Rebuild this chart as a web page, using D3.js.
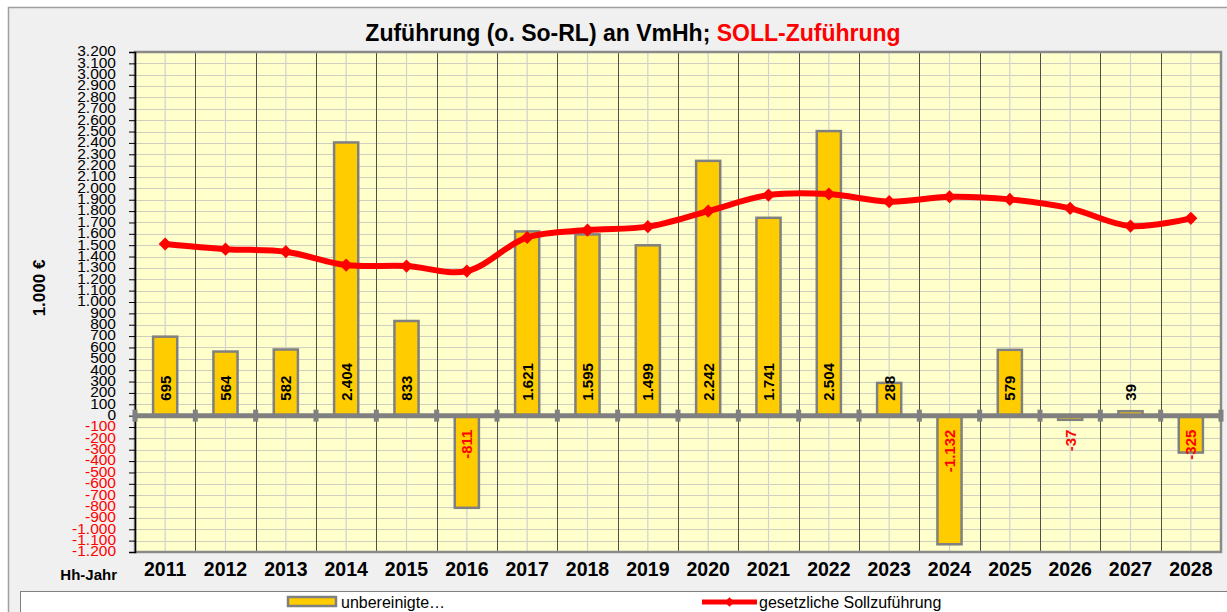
<!DOCTYPE html>
<html>
<head>
<meta charset="utf-8">
<script src="https://cdn.jsdelivr.net/npm/d3@7"></script>
<style>
	body { margin: 0; background: #ffffff; }
	text { font-family: Arial, "Liberation Sans", sans-serif; }
</style>
</head>
<body>
<div id="chart"></div>
<script>

// years on the x axis
const YEARS = ["2011", "2012", "2013", "2014", "2015", "2016", "2017", "2018", "2019",
	"2020", "2021", "2022", "2023", "2024", "2025", "2026", "2027", "2028"];

// unbereinigte Zuführung (bars), in 1.000 €
const ZUFUEHRUNG = [695, 564, 582, 2404, 833, -811, 1621, 1595, 1499,
	2242, 1741, 2504, 288, -1132, 579, -37, 39, -325];

// gesetzliche Sollzuführung (red line), in 1.000 €
const SOLL = [1510, 1465, 1443, 1325, 1316, 1272, 1568, 1633, 1663,
	1800, 1941, 1950, 1883, 1926, 1903, 1824, 1668, 1736];

// y axis ticks
const Y_TICKS = d3.range(-1200, 3201, 100);

const LEGEND_LABELS = ["unbereinigte\u2026", "gesetzliche Sollzuführung"];

const W = 1227, H = 612;
const plot = {left: 135, right: 1221, top: 52, bottom: 552};

// german number format (1.234), plain hyphen as minus
const de = d3.formatLocale({decimal: ",", thousands: ".", grouping: [3], currency: ["", " €"], minus: "-"});
const fmt = de.format(",d");

const svg = d3.select("#chart")
	.append("svg")
	.attr("width", W)
	.attr("height", H);

// outer chart frame
svg.append("rect")
	.attr("x", 8.5).attr("y", 7.5)
	.attr("width", W).attr("height", H)
	.attr("fill", "#f0f0f0")
	.attr("stroke", "#a0a0a0")
	.attr("stroke-width", 1.5);

// title
const title = svg.append("text")
	.attr("x", 633).attr("y", 41)
	.attr("text-anchor", "middle")
	.style("font-size", "23px")
	.style("font-weight", "bold");
title.append("tspan").text("Zuführung (o. So-RL) an VmHh; ").attr("fill", "#000");
title.append("tspan").text("SOLL-Zuführung").attr("fill", "#ff0000");

// scales
const x = d3.scaleBand()
	.domain(YEARS)
	.range([plot.left, plot.right]);

const y = d3.scaleLinear()
	.domain([-1200, 3200])
	.range([plot.bottom, plot.top]);

// plot background
svg.append("rect")
	.attr("x", plot.left).attr("y", plot.top)
	.attr("width", plot.right - plot.left)
	.attr("height", plot.bottom - plot.top)
	.attr("fill", "#ffffcc");

// horizontal grid
svg.append("g")
	.selectAll("line")
	.data(Y_TICKS)
	.enter()
	.append("line")
	.attr("x1", plot.left).attr("x2", plot.right)
	.attr("y1", d => Math.round(y(d)) + 0.5)
	.attr("y2", d => Math.round(y(d)) + 0.5)
	.attr("stroke", "#cfcfc0")
	.attr("stroke-width", 1.2);

// light vertical grid at the middle of each year
svg.append("g")
	.selectAll("line")
	.data(YEARS)
	.enter()
	.append("line")
	.attr("x1", d => x(d) + x.bandwidth() / 2)
	.attr("x2", d => x(d) + x.bandwidth() / 2)
	.attr("y1", plot.top).attr("y2", plot.bottom)
	.attr("stroke", "#d2d2cc")
	.attr("stroke-width", 1.2);

// dark vertical lines between years
svg.append("g")
	.selectAll("line")
	.data(YEARS.slice(1))
	.enter()
	.append("line")
	.attr("x1", d => Math.round(x(d)) + 0.5)
	.attr("x2", d => Math.round(x(d)) + 0.5)
	.attr("y1", plot.top).attr("y2", plot.bottom)
	.attr("stroke", "#505048")
	.attr("stroke-width", 1);

// plot border
svg.append("rect")
	.attr("x", plot.left).attr("y", plot.top)
	.attr("width", plot.right - plot.left)
	.attr("height", plot.bottom - plot.top)
	.attr("fill", "none")
	.attr("stroke", "#8a8a8a")
	.attr("stroke-width", 2.5);

// left y axis with ticks
const yAxis = d3.axisLeft(y)
	.tickValues(Y_TICKS)
	.tickSize(6)
	.tickFormat(fmt);

const yg = svg.append("g")
	.attr("transform", `translate(${plot.left},0)`)
	.call(yAxis);

yg.select(".domain").attr("stroke", "#000").attr("stroke-width", 1.5);
yg.selectAll(".tick line").attr("stroke", "#000").attr("stroke-width", 1);
yg.selectAll(".tick text")
	.attr("x", -19)
	.attr("dy", "0.25em")
	.style("font-size", "15.5px")
	.style("font-family", "Arial, 'Liberation Sans', sans-serif")
	.attr("fill", d => d < 0 ? "#ff0000" : "#000");

// bars
const barW = x.bandwidth() * 0.4;

svg.append("g")
	.selectAll("rect")
	.data(ZUFUEHRUNG)
	.enter()
	.append("rect")
	.attr("x", (d, i) => x(YEARS[i]) + (x.bandwidth() - barW) / 2)
	.attr("y", d => y(Math.max(0, d)))
	.attr("width", barW)
	.attr("height", d => Math.abs(y(d) - y(0)))
	.attr("fill", "#ffcc00")
	.attr("stroke", "#808080")
	.attr("stroke-width", 2.5);

// zero line with little square ticks
svg.append("line")
	.attr("x1", plot.left).attr("x2", plot.right)
	.attr("y1", y(0)).attr("y2", y(0))
	.attr("stroke", "#808080")
	.attr("stroke-width", 5);

svg.append("g")
	.selectAll("rect")
	.data(YEARS.concat(["end"]))
	.enter()
	.append("rect")
	.attr("x", d => (d == "end" ? plot.right : x(d)) - 2.5)
	.attr("y", y(0) - 6)
	.attr("width", 5)
	.attr("height", 12)
	.attr("fill", "#808080");

// bar value labels, rotated, near the zero line
svg.append("g")
	.selectAll("text")
	.data(ZUFUEHRUNG)
	.enter()
	.append("text")
	.attr("transform", function(d, i) {
		const cx = x(YEARS[i]) + x.bandwidth() / 2 + 5.5;
		const cy = d >= 0 ? y(0) - 15 : y(0) + 14;
		return `translate(${cx},${cy}) rotate(-90)`;
	})
	.attr("text-anchor", d => d >= 0 ? "start" : "end")
	.style("font-size", "15px")
	.style("font-weight", "bold")
	.attr("fill", d => d < 0 ? "#ff0000" : "#000")
	.text(d => fmt(d));

// smoothed red line
const line = d3.line()
	.x((d, i) => x(YEARS[i]) + x.bandwidth() / 2)
	.y(d => y(d))
	.curve(d3.curveCatmullRom.alpha(0.5));

svg.append("path")
	.datum(SOLL)
	.attr("d", line)
	.attr("fill", "none")
	.attr("stroke", "#ff0000")
	.attr("stroke-width", 6)
	.attr("stroke-linejoin", "round");

// diamond markers
const diamond = d3.symbol().type(d3.symbolDiamond2).size(110);

svg.append("g")
	.selectAll("path")
	.data(SOLL)
	.enter()
	.append("path")
	.attr("d", diamond)
	.attr("transform", (d, i) => `translate(${x(YEARS[i]) + x.bandwidth() / 2},${y(d)})`)
	.attr("fill", "#ff0000");

// x axis labels
svg.append("g")
	.selectAll("text")
	.data(YEARS)
	.enter()
	.append("text")
	.attr("x", d => x(d) + x.bandwidth() / 2)
	.attr("y", 576)
	.attr("text-anchor", "middle")
	.style("font-size", "19.5px")
	.style("font-weight", "bold")
	.text(d => d);

svg.append("text")
	.attr("x", 117).attr("y", 580)
	.attr("text-anchor", "end")
	.style("font-size", "15px")
	.style("font-weight", "bold")
	.text("Hh-Jahr");

// y axis title
svg.append("text")
	.attr("transform", "translate(45,288) rotate(-90)")
	.attr("text-anchor", "middle")
	.style("font-size", "17px")
	.style("font-weight", "bold")
	.text("1.000 €");

// legend box
svg.append("rect")
	.attr("x", 20.5).attr("y", 591.5)
	.attr("width", W).attr("height", 40)
	.attr("fill", "#ffffff")
	.attr("stroke", "#808080")
	.attr("stroke-width", 1);

svg.append("rect")
	.attr("x", 288).attr("y", 597)
	.attr("width", 48).attr("height", 9)
	.attr("fill", "#ffcc00")
	.attr("stroke", "#808080")
	.attr("stroke-width", 2.5);

svg.append("text")
	.attr("x", 341).attr("y", 608)
	.style("font-size", "16px")
	.text(LEGEND_LABELS[0]);

svg.append("line")
	.attr("x1", 702).attr("x2", 757)
	.attr("y1", 602).attr("y2", 602)
	.attr("stroke", "#ff0000")
	.attr("stroke-width", 5);

svg.append("path")
	.attr("d", d3.symbol().type(d3.symbolDiamond2).size(60))
	.attr("transform", "translate(729.5,602)")
	.attr("fill", "#ff0000");

svg.append("text")
	.attr("x", 759).attr("y", 608)
	.style("font-size", "16px")
	.text(LEGEND_LABELS[1]);

</script>
</body>
</html>
